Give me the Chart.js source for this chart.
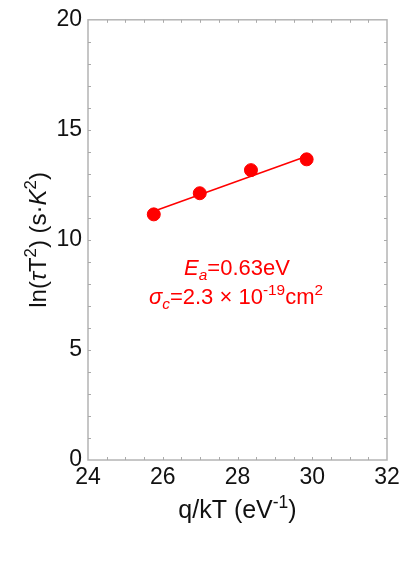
<!DOCTYPE html>
<html>
<head>
<meta charset="utf-8">
<script src="https://cdn.jsdelivr.net/npm/chart.js@4"></script>
<style>
  html, body { margin: 0; padding: 0; background: #fff; }
  #wrap { width: 405px; height: 570px; }
</style>
</head>
<body>
<div id="wrap"><canvas id="myChart" width="405" height="570"></canvas></div>
<script>
const ctx = document.getElementById("myChart").getContext("2d");

// measured points (q/kT vs ln(tau T^2))
const qkT = [25.76, 26.99, 28.36, 29.85];
const lnTauT2 = [11.16, 12.12, 13.17, 13.66];

// linear fit end points
const fitX = [25.76, 29.85];
const fitY = [11.3, 13.8];

const xTicks = [24, 26, 28, 30, 32];
const yTicks = [0, 5, 10, 15, 20];

const red = "#ff0000";
const frame = "#b4b4b4";
const fontFam = "'Liberation Sans', Arial, sans-serif";

// draw a run of text pieces, with super/subscripts and italics
function drawRuns(c, runs, x, y, size, color, align) {
  const widths = runs.map((r) => {
    const s = r.sup || r.sub ? size * 0.7 : size;
    c.font = (r.it ? "italic " : "") + s + "px " + fontFam;
    return c.measureText(r.t).width;
  });
  const total = widths.reduce((a, b) => a + b, 0);
  let cx = align === "center" ? x - total / 2 : x;
  c.fillStyle = color;
  c.textAlign = "left";
  c.textBaseline = "alphabetic";
  runs.forEach((r, i) => {
    const s = r.sup || r.sub ? size * 0.7 : size;
    c.font = (r.it ? "italic " : "") + s + "px " + fontFam;
    let dy = 0;
    if (r.sup) dy = -size * 0.42;
    if (r.sub) dy = size * 0.22;
    c.fillText(r.t, cx, y + dy);
    cx += widths[i];
  });
}

const decor = {
  id: "decor",
  afterDraw(chart) {
    const c = chart.ctx;
    const xs = chart.scales.x;
    const ys = chart.scales.y;
    const a = chart.chartArea;
    c.save();
    // frame
    c.strokeStyle = frame;
    c.lineWidth = 1.5;
    c.strokeRect(a.left, a.top, a.right - a.left, a.bottom - a.top);
    // minor ticks, inside on all four sides
    c.strokeStyle = "#aaa";
    c.lineWidth = 1;
    c.beginPath();
    for (let v = 24.5; v < 32; v += 0.5) {
      const px = Math.round(xs.getPixelForValue(v)) + 0.5;
      c.moveTo(px, a.bottom); c.lineTo(px, a.bottom - 3);
      c.moveTo(px, a.top); c.lineTo(px, a.top + 3);
    }
    for (let v = 1; v < 20; v += 1) {
      const py = Math.round(ys.getPixelForValue(v)) + 0.5;
      c.moveTo(a.left, py); c.lineTo(a.left + 3, py);
      c.moveTo(a.right, py); c.lineTo(a.right - 3, py);
    }
    c.stroke();

    // x title
    drawRuns(c, [
      { t: "q/kT (eV" }, { t: "-1", sup: true }, { t: ")" }
    ], (a.left + a.right) / 2, 518, 25, "#111", "center");

    // y title, rotated
    c.save();
    c.translate(46, (a.top + a.bottom) / 2);
    c.rotate(-Math.PI / 2);
    drawRuns(c, [
      { t: "ln(" }, { t: "\u03c4", it: true }, { t: "T" }, { t: "2", sup: true },
      { t: ") (s\u00b7" }, { t: "K", it: true }, { t: "2", sup: true }, { t: ")" }
    ], 0, 0, 24, "#111", "center");
    c.restore();

    // annotation
    drawRuns(c, [
      { t: "E", it: true }, { t: "a", it: true, sub: true }, { t: "=0.63eV" }
    ], 237, 275, 22, red, "center");
    drawRuns(c, [
      { t: "\u03c3", it: true }, { t: "c", it: true, sub: true }, { t: "=2.3 \u00d7 10" },
      { t: "-19", sup: true }, { t: "cm" }, { t: "2", sup: true }
    ], 236, 304, 22, red, "center");
    c.restore();
  }
};

const data = {
  datasets: [
    {
      label: "fit",
      data: fitX.map((x, i) => ({ x: x, y: fitY[i] })),
      showLine: true,
      borderColor: red,
      borderWidth: 1.5,
      pointRadius: 0,
      fill: false,
    },
    {
      label: "data",
      data: qkT.map((x, i) => ({ x: x, y: lnTauT2[i] })),
      showLine: false,
      backgroundColor: red,
      borderColor: red,
      pointRadius: 6.5,
    },
  ],
};

const config = {
  type: "scatter",
  data: data,
  plugins: [decor],
  options: {
    responsive: false,
    animation: false,
    layout: { padding: { top: 16, right: 18, left: 0, bottom: 0 } },
    plugins: { legend: { display: false }, tooltip: { enabled: false } },
    scales: {
      x: {
        type: "linear",
        min: 24,
        max: 32,
        afterBuildTicks: (s) => { s.ticks = xTicks.map((v) => ({ value: v })); },
        afterFit: (s) => { s.height = 110; },
        grid: { display: false, drawTicks: false },
        border: { display: false },
        ticks: {
          padding: 4,
          autoSkip: false,
          maxRotation: 0,
          color: "#111",
          font: { family: fontFam, size: 23 },
        },
      },
      y: {
        type: "linear",
        min: 0,
        max: 20,
        afterBuildTicks: (s) => { s.ticks = yTicks.map((v) => ({ value: v })); },
        afterFit: (s) => { s.width = 88; },
        grid: { display: false, drawTicks: false },
        border: { display: false },
        ticks: {
          padding: 6,
          color: "#111",
          font: { family: fontFam, size: 23 },
        },
      },
    },
  },
};

const myChart = new Chart(ctx, config);
</script>
</body>
</html>
